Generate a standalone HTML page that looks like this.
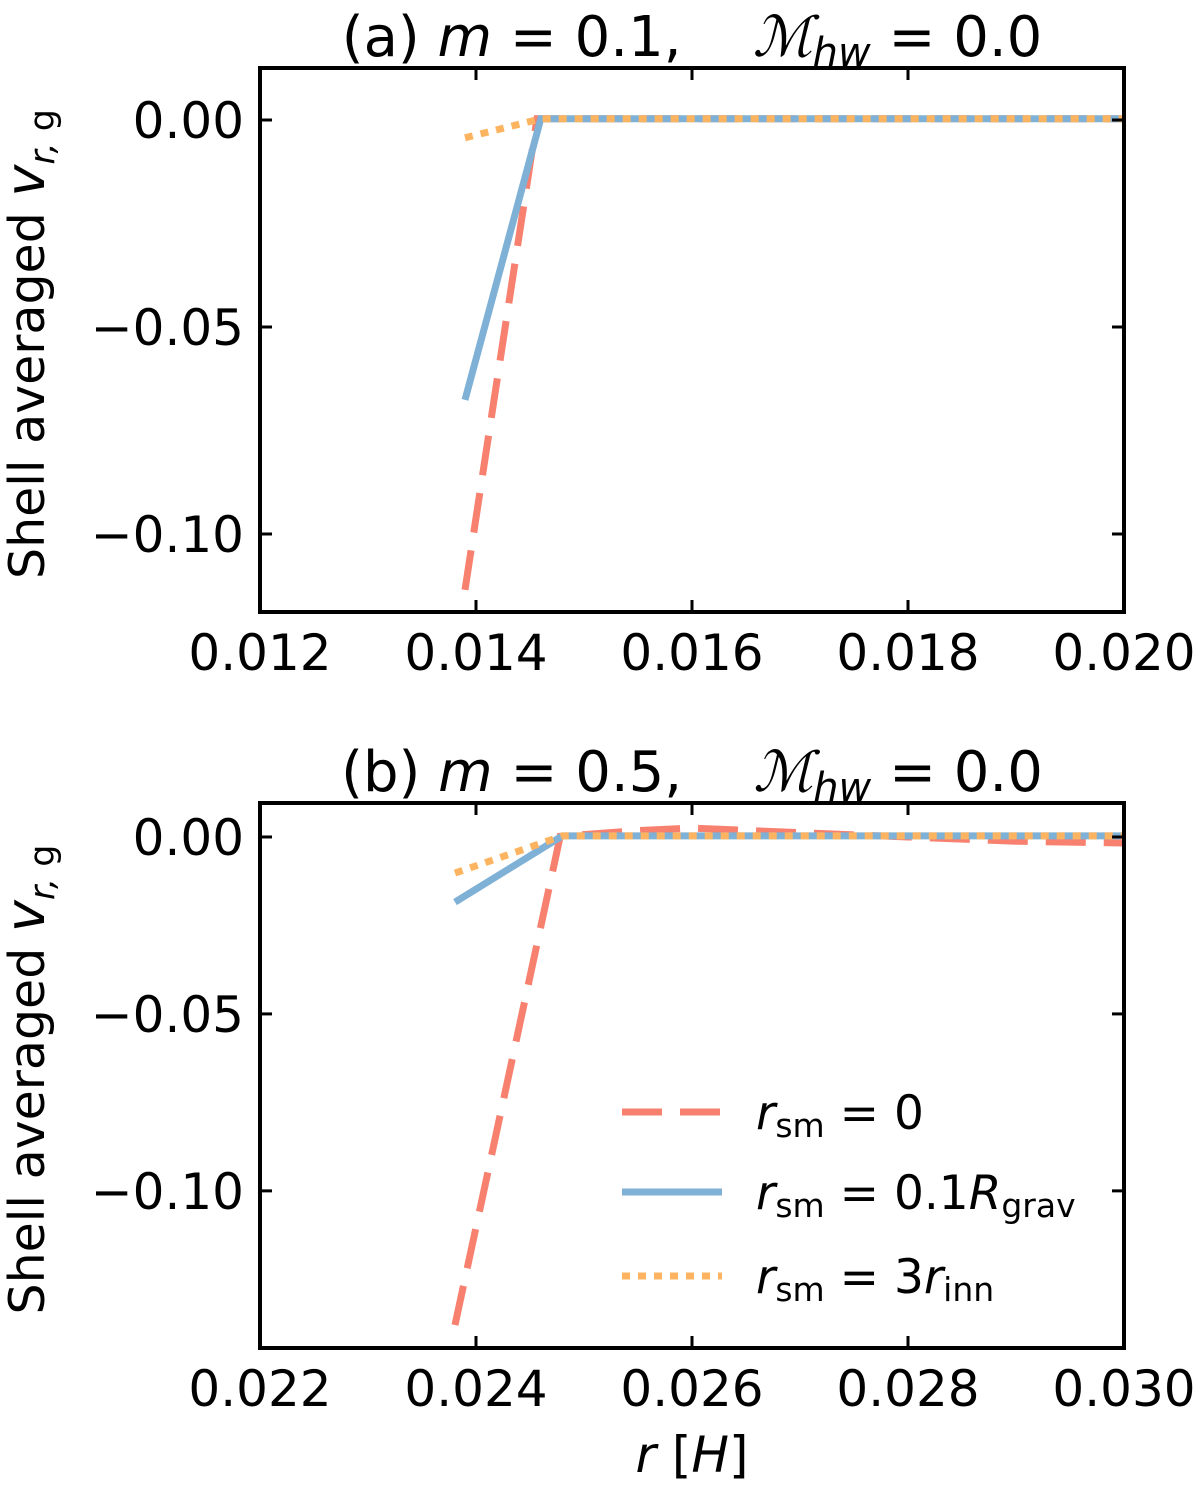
<!DOCTYPE html>
<html><head><meta charset="utf-8"><style>
body{margin:0;background:#fff}
svg text{font-family:"DejaVu Sans","Liberation Sans",sans-serif;fill:#000}
</style></head><body>
<svg id="chart" width="1200" height="1488" viewBox="0 0 1200 1488" xmlns="http://www.w3.org/2000/svg"></svg>
<script>
const NS="http://www.w3.org/2000/svg";
// panel a data
const aXTicks=[0.012,0.014,0.016,0.018,0.020];
const aXTickLabels=["0.012","0.014","0.016","0.018","0.020"];
const aYTicks=[0,-0.05,-0.10];
const aYTickLabels=["0.00","\u22120.05","\u22120.10"];
const aRedX=[0.013898,0.014565,0.0200];
const aRedY=[-0.1135,0.0003,0.0003];
const aBlueX=[0.013898,0.014600,0.0200];
const aBlueY=[-0.0676,0.0003,0.0003];
const aOrangeX=[0.013898,0.014600,0.0200];
const aOrangeY=[-0.0043,0.0003,0.0003];
// panel b data
const bXTicks=[0.022,0.024,0.026,0.028,0.030];
const bXTickLabels=["0.022","0.024","0.026","0.028","0.030"];
const bYTicks=[0,-0.05,-0.10];
const bYTickLabels=["0.00","\u22120.05","\u22120.10"];
const bRedX=[0.023806,0.024780,0.0255,0.0260,0.0270,0.0280,0.0290,0.0300];
const bRedY=[-0.1379,0.0002,0.0018,0.0025,0.0012,0.0000,-0.0012,-0.0017];
const bBlueX=[0.023806,0.024800,0.0300];
const bBlueY=[-0.0184,0.0003,0.0003];
const bOrangeX=[0.023806,0.024800,0.0300];
const bOrangeY=[-0.0102,0.0003,0.0003];

const svg=document.getElementById('chart');
function el(tag,attrs,parent){const e=document.createElementNS(NS,tag);for(const k in attrs)e.setAttribute(k,attrs[k]);(parent||svg).appendChild(e);return e;}
const RED="#f7806f",BLUE="#7fb1d6",ORANGE="#fdb460";

function panel(p){
  const g=el('g',{});
  
  
  const X=v=>p.x0+(v-p.xmin)/(p.xmax-p.xmin)*(p.x1-p.x0);
  const Y=v=>p.y0+(v-p.ymax)/(p.ymin-p.ymax)*(p.y1-p.y0);
  const clip='clip'+p.id;
  const cp=el('clipPath',{id:clip},g);el('rect',{x:p.x0,y:p.y0,width:p.x1-p.x0,height:p.y1-p.y0},cp);
  function series(xs,ys,color,dash,name){
    const pts=xs.map((x,i)=>X(x).toFixed(1)+','+Y(ys[i]).toFixed(1)).join(' ');
    const l=el('polyline',{points:pts,fill:'none',stroke:color,'stroke-width':7,'stroke-dasharray':dash,'clip-path':'url(#'+clip+')'},g);
    
    
  }
  series(p.rx,p.ry,RED,'40 18','series-rsm-0');
  series(p.bx,p.by,BLUE,'none','series-rsm-0.1rgrav');
  series(p.ox,p.oy,ORANGE,'8 8','series-rsm-3rinn');
  const fr=el('rect',{x:p.x0,y:p.y0,width:p.x1-p.x0,height:p.y1-p.y0,fill:'none',stroke:'#000','stroke-width':4},g);
  
  
  p.xt.forEach((v,i)=>{
    const x=X(v);
    el('line',{x1:x,x2:x,y1:p.y1,y2:p.y1-12,stroke:'#000','stroke-width':3},g);
    el('line',{x1:x,x2:x,y1:p.y0,y2:p.y0+12,stroke:'#000','stroke-width':3},g);
    const t=el('text',{x:x,y:p.y1+58,'font-size':50,'text-anchor':'middle'},g);t.textContent=p.xl[i];
    
    
  });
  p.yt.forEach((v,i)=>{
    const y=Y(v);
    el('line',{x1:p.x0,x2:p.x0+12,y1:y,y2:y,stroke:'#000','stroke-width':3},g);
    el('line',{x1:p.x1,x2:p.x1-12,y1:y,y2:y,stroke:'#000','stroke-width':3},g);
    const t=el('text',{x:p.x0-16,y:y+18,'font-size':50,'text-anchor':'end'},g);t.textContent=p.yl[i];
    
    
  });
  const tt=el('text',{x:692,y:p.y0-12,'font-size':56,'text-anchor':'middle'},g);
  tt.innerHTML=p.title;
  
  
  const yl=el('text',{transform:`translate(44,${(p.y0+p.y1)/2+4}) rotate(-90)`,'font-size':49,'text-anchor':'middle'},g);
  yl.innerHTML='Shell averaged <tspan font-style="italic" font-size="54">v</tspan><tspan font-style="italic" font-size="35" dy="10">r, </tspan><tspan font-size="35">g</tspan>';
  
  
}
panel({id:'a',name:'panel-a',x0:260,x1:1124,y0:68,y1:612,xmin:0.012,xmax:0.020,ymax:0.01256,ymin:-0.11884,
  xt:aXTicks,xl:aXTickLabels,yt:aYTicks,yl:aYTickLabels,rx:aRedX,ry:aRedY,bx:aBlueX,by:aBlueY,ox:aOrangeX,oy:aOrangeY,
  title:'(a) <tspan font-style="italic">m</tspan> = 0.1,\u00a0\u00a0\u00a0\u00a0<tspan font-style="italic" font-family="Liberation Serif">ℳ</tspan><tspan font-style="italic" font-size="40" dy="10">hw</tspan><tspan dy="-10"> = 0.0</tspan>'});
panel({id:'b',name:'panel-b',x0:260,x1:1124,y0:803,y1:1348,xmin:0.022,xmax:0.030,ymax:0.0096,ymin:-0.1444,
  xt:bXTicks,xl:bXTickLabels,yt:bYTicks,yl:bYTickLabels,rx:bRedX,ry:bRedY,bx:bBlueX,by:bBlueY,ox:bOrangeX,oy:bOrangeY,
  title:'(b) <tspan font-style="italic">m</tspan> = 0.5,\u00a0\u00a0\u00a0\u00a0<tspan font-style="italic" font-family="Liberation Serif">ℳ</tspan><tspan font-style="italic" font-size="40" dy="10">hw</tspan><tspan dy="-10"> = 0.0</tspan>'});
const xt=el('text',{x:692,y:1472,'font-size':50,'text-anchor':'middle'});
xt.innerHTML='<tspan font-style="italic">r</tspan> [<tspan font-style="italic">H</tspan>]';


// legend
const leg=el('g',{});


[[1112,RED,'40 18','0'],[1192,BLUE,'none','0.1<tspan font-style="italic">R</tspan><tspan font-size="33" dy="8">grav</tspan>'],[1276,ORANGE,'8 8','3<tspan font-style="italic">r</tspan><tspan font-size="33" dy="8">inn</tspan>']].forEach(e=>{
  el('line',{x1:622,x2:722,y1:e[0],y2:e[0],stroke:e[1],'stroke-width':7,'stroke-dasharray':e[2]},leg);
  const t=el('text',{x:756,y:e[0]+17,'font-size':47},leg);
  t.innerHTML='<tspan font-style="italic">r</tspan><tspan font-size="33" dy="8">sm</tspan><tspan dy="-8"> = </tspan>'+e[3];
  
  
});
</script>
</body></html>
